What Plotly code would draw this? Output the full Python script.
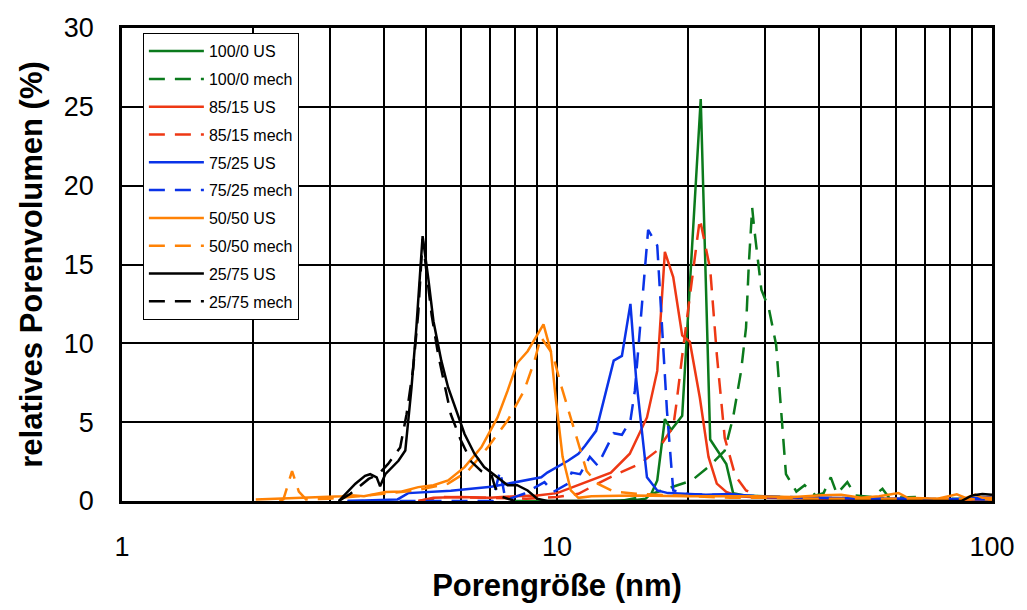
import plotly.graph_objects as go

# Pore size distributions (pore size in nm, relative pore volume in %)
size_100_0_us = [8.0, 12.0, 15.0, 16.0, 16.5, 17.0, 17.7, 18.3, 19.4, 21.4, 22.5, 24.5, 25.4, 27.0, 30.0, 35.0, 50.0, 70.0, 100.0]
vol_100_0_us = [0.0, 0.0, 0.05, 0.15, 0.5, 1.3, 5.2, 4.5, 5.4, 25.5, 3.9, 2.35, 0.5, 0.35, 0.3, 0.2, 0.1, 0.1, 0.1]

size_100_0_mech = [14.0, 16.0, 17.0, 20.4, 22.5, 24.3, 25.4, 26.5, 27.2, 27.6, 28.1, 28.4, 29.5, 30.7, 31.9, 32.2, 33.6,
                   35.5, 37.1, 39.3, 41.0, 42.6, 44.0, 46.5, 48.5, 53.0, 56.0, 58.0, 67.0, 70.0, 80.0, 100.0]
vol_100_0_mech = [0.0, 0.3, 0.57, 1.3, 2.25, 3.2, 5.3, 8.25, 11.0, 15.0, 18.6, 17.3, 13.4, 12.2, 9.9, 8.4, 1.7,
                  0.6, 1.0, 0.35, 0.5, 1.5, 0.45, 1.2, 0.35, 0.25, 0.78, 0.2, 0.25, 0.1, 0.15, 0.1]

size_85_15_us = [4.8, 5.2, 6.0, 7.0, 8.0, 9.0, 10.0, 11.2, 12.2, 13.3, 14.7, 16.1, 17.0, 17.4, 17.7, 18.5, 19.4, 20.2,
                 21.3, 22.3, 23.3, 24.5, 26.0, 30.0, 40.0, 60.0, 100.0]
vol_85_15_us = [0.0, 0.2, 0.25, 0.2, 0.3, 0.35, 0.5, 1.0, 1.4, 1.8, 3.0, 5.3, 8.25, 12.6, 15.8, 14.2, 10.5, 10.1,
                6.55, 2.8, 1.1, 0.57, 0.3, 0.2, 0.15, 0.1, 0.1]

size_85_15_mech = [4.8, 5.5, 7.0, 8.5, 10.0, 11.2, 12.4, 13.7, 15.5, 17.0, 18.5, 18.8, 19.5, 20.4, 21.0, 21.3, 22.5,
                   23.3, 24.3, 25.7, 27.2, 29.0, 35.0, 50.0, 100.0]
vol_85_15_mech = [0.0, 0.25, 0.2, 0.15, 0.25, 0.46, 1.1, 1.7, 2.35, 3.2, 4.7, 6.1, 9.7, 13.9, 16.6, 17.9, 14.7,
                  9.3, 4.0, 1.6, 0.67, 0.3, 0.2, 0.15, 0.1]

size_75_25_us = [3.3, 4.3, 4.55, 5.7, 7.06, 8.0, 9.2, 9.5, 10.6, 11.2, 11.6, 12.3, 13.5, 14.1, 14.75, 15.2, 16.1, 17.0,
                 18.0, 22.0, 25.0, 30.0, 40.0, 60.0, 80.0, 100.0]
vol_75_25_us = [0.0, 0.1, 0.5, 0.65, 0.9, 1.2, 1.5, 1.8, 2.55, 3.0, 3.5, 4.45, 8.9, 9.2, 12.5, 7.8, 1.5, 0.67,
                0.5, 0.4, 0.45, 0.25, 0.2, 0.15, 0.1, 0.25]

size_75_25_mech = [3.3, 7.1, 7.4, 7.6, 7.8, 8.4, 9.36, 9.8, 10.6, 10.8, 11.3, 11.9, 12.4, 13.5, 14.1, 14.75, 15.1, 15.7,
                   16.2, 17.0, 17.4, 17.9, 18.5, 20.0, 25.0, 30.0, 40.0, 60.0, 100.0]
vol_75_25_mech = [0.0, 0.0, 1.9, 0.2, 0.15, 0.46, 1.2, 0.57, 1.1, 1.8, 1.7, 2.8, 2.25, 4.3, 4.2, 5.1, 7.0, 12.4,
                  17.2, 16.2, 11.2, 5.7, 0.67, 0.45, 0.35, 0.3, 0.2, 0.15, 0.1]

size_50_50_us = [2.03, 2.3, 2.6, 2.94, 3.2, 3.37, 3.6, 4.03, 4.4, 4.8, 5.2, 5.62, 6.13, 6.7, 7.3, 7.7, 8.1, 8.56, 9.31,
                 9.68, 9.93, 10.3, 10.76, 11.2, 12.0, 15.0, 20.0, 28.7, 35.0, 40.6, 45.0, 50.0, 55.0, 61.0, 64.0,
                 75.0, 83.0, 87.0, 91.5, 95.0, 100.0]
vol_50_50_us = [0.1, 0.15, 0.2, 0.25, 0.3, 0.36, 0.3, 0.57, 0.6, 0.88, 1.0, 1.3, 2.15, 3.4, 5.3, 7.0, 8.75, 9.5, 11.2,
                9.5, 6.55, 2.8, 0.67, 0.2, 0.3, 0.35, 0.3, 0.3, 0.25, 0.36, 0.4, 0.2, 0.3, 0.5, 0.2,
                0.15, 0.42, 0.2, 0.4, 0.2, 0.2]

size_50_50_mech = [2.3, 2.35, 2.46, 2.55, 2.65, 3.0, 3.5, 4.0, 4.5, 5.0, 5.62, 6.24, 6.93, 7.7, 8.4, 8.88, 9.18, 9.78,
                   10.2, 10.8, 11.3, 11.7, 12.4, 13.5, 15.2, 20.0, 25.0, 30.0, 40.0, 60.0, 100.0]
vol_50_50_mech = [0.0, 0.1, 1.9, 0.6, 0.1, 0.15, 0.3, 0.45, 0.6, 0.8, 1.1, 1.9, 3.4, 5.1, 7.0, 8.9, 10.4, 9.3,
                  7.4, 5.1, 3.2, 1.9, 1.1, 0.6, 0.46, 0.3, 0.2, 0.2, 0.15, 0.15, 0.1]

size_25_75_us = [3.15, 3.32, 3.44, 3.62, 3.72, 3.85, 3.92, 4.03, 4.32, 4.48, 4.63, 4.75, 4.91, 5.06, 5.2, 5.42, 5.62,
                 6.13, 6.46, 6.8, 7.06, 7.43, 7.7, 8.1, 8.56, 9.0, 9.5, 85.0, 90.0, 95.0, 100.0]
vol_25_75_us = [0.0, 0.67, 1.1, 1.6, 1.7, 1.5, 0.93, 1.7, 2.55, 3.2, 7.2, 11.0, 16.8, 14.1, 11.4, 8.9, 7.2,
                4.25, 3.0, 2.15, 1.8, 1.3, 1.0, 1.0, 0.67, 0.15, 0.0, 0.0, 0.35, 0.45, 0.4]

size_25_75_mech = [3.15, 3.35, 3.5, 3.69, 3.89, 4.09, 4.36, 4.51, 4.67, 4.8, 4.91, 5.0, 5.15, 5.33, 5.52, 5.7, 6.0,
                   6.35, 6.7, 7.06, 7.2, 7.4, 8.0]
vol_25_75_mech = [0.0, 0.46, 0.88, 1.4, 1.7, 2.35, 3.4, 5.5, 8.4, 12.0, 16.6, 14.7, 11.8, 9.3, 7.2, 5.5, 3.9,
                  2.5, 1.9, 1.7, 0.9, 0.3, 0.0]

x_tick_values = [1, 2, 3, 4, 5, 6, 7, 8, 9, 10, 20, 30, 40, 50, 60, 70, 80, 90, 100]
x_tick_labels = ["1", "", "", "", "", "", "", "", "", "10", "", "", "", "", "", "", "", "", "100"]
y_tick_values = [0, 5, 10, 15, 20, 25, 30]

GREEN = "#0b7a1c"
RED = "#ee3814"
BLUE = "#0a33e8"
ORANGE = "#ff8205"
BLACK = "#000000"
DASH = "16px,10px"

series = [
    ("100/0 US", size_100_0_us, vol_100_0_us, GREEN, "solid"),
    ("100/0 mech", size_100_0_mech, vol_100_0_mech, GREEN, DASH),
    ("85/15 US", size_85_15_us, vol_85_15_us, RED, "solid"),
    ("85/15 mech", size_85_15_mech, vol_85_15_mech, RED, DASH),
    ("75/25 US", size_75_25_us, vol_75_25_us, BLUE, "solid"),
    ("75/25 mech", size_75_25_mech, vol_75_25_mech, BLUE, DASH),
    ("50/50 US", size_50_50_us, vol_50_50_us, ORANGE, "solid"),
    ("50/50 mech", size_50_50_mech, vol_50_50_mech, ORANGE, DASH),
    ("25/75 US", size_25_75_us, vol_25_75_us, BLACK, "solid"),
    ("25/75 mech", size_25_75_mech, vol_25_75_mech, BLACK, DASH),
]

fig = go.Figure()
for name, xs, ys, color, dash in series:
    fig.add_trace(go.Scatter(
        x=xs, y=ys, mode="lines", name=name, legendgroup=name,
        line=dict(color=color, width=2.5, dash=dash),
    ))

FONT = "Liberation Sans, Arial, Helvetica, sans-serif"

fig.update_layout(
    width=1027, height=610,
    margin=dict(l=122, r=30, t=28, b=106),
    paper_bgcolor="white", plot_bgcolor="white",
    font=dict(family=FONT, color="black"),
    showlegend=True,
    legend=dict(
        x=0.024, y=0.989, xanchor="left", yanchor="top",
        bgcolor="white", bordercolor="black", borderwidth=1,
        font=dict(size=16, family=FONT, color="black"),
        tracegroupgap=4, itemwidth=55,
    ),
    xaxis=dict(
        type="log", range=[0, 2],
        tickvals=x_tick_values, ticktext=x_tick_labels,
        showgrid=True, gridcolor="black", gridwidth=1.5,
        showline=True, linecolor="black", linewidth=2.5, mirror=True,
        ticks="", tickfont=dict(size=27), ticklabelstandoff=20,
        title=dict(text="<b>Porengröße (nm)</b>", font=dict(size=31), standoff=14),
        zeroline=False,
    ),
    yaxis=dict(
        range=[0, 30], tickvals=y_tick_values,
        showgrid=True, gridcolor="black", gridwidth=1.5,
        showline=True, linecolor="black", linewidth=2.5, mirror=True,
        ticks="", tickfont=dict(size=27), ticklabelstandoff=20,
        title=dict(text="<b>relatives Porenvolumen (%)</b>", font=dict(size=31), standoff=12),
        zeroline=False,
    ),
)

fig.write_html("out.html")
